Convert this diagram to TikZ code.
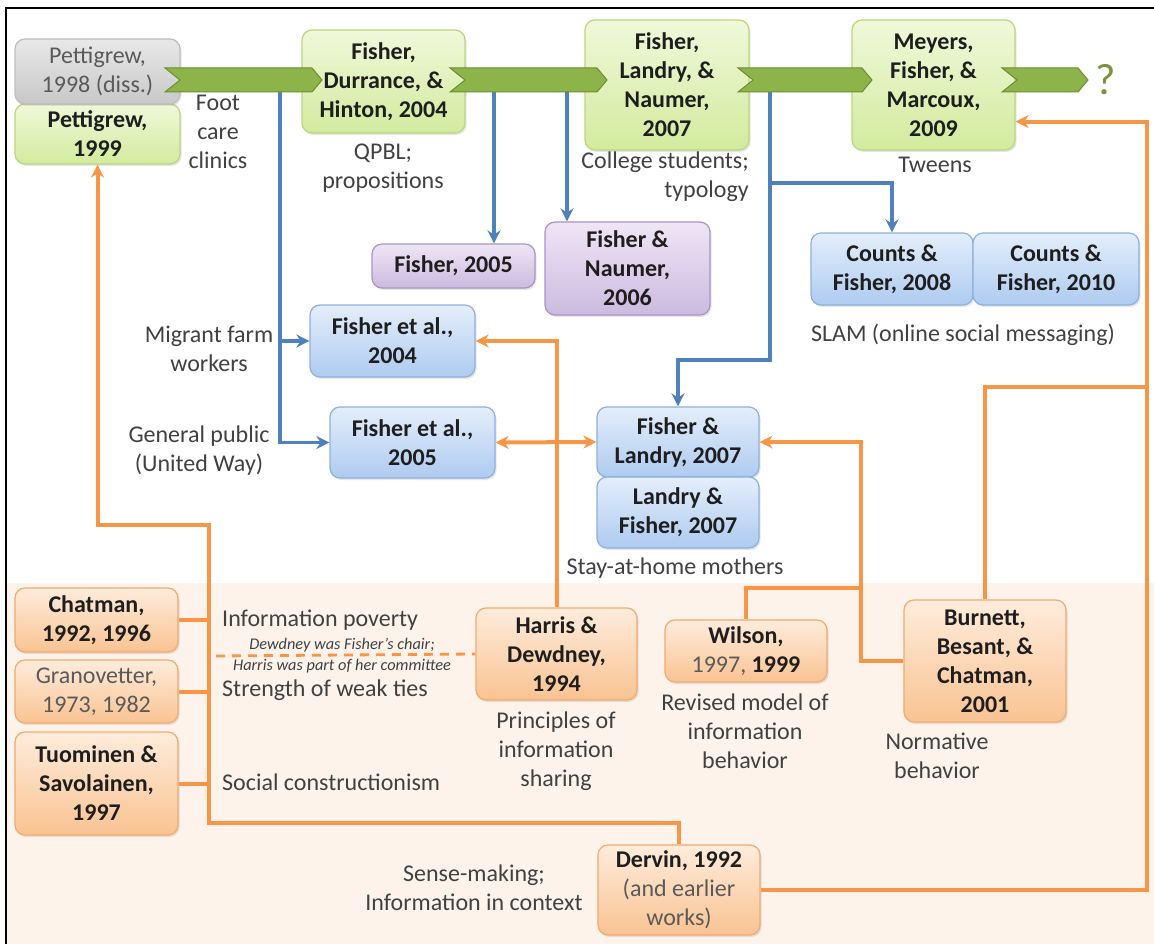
\documentclass[tikz,border=0pt]{standalone}
\usepackage{fontspec}
\setmainfont{Carlito}
\usepackage{tikz}
\usetikzlibrary{arrows.meta}
\usetikzlibrary{shadows}

\definecolor{peach}{RGB}{253,243,235}
\definecolor{ink}{RGB}{30,30,30}
\definecolor{soft}{RGB}{90,90,90}
\definecolor{note}{RGB}{65,65,65}
\definecolor{grnTop}{RGB}{240,248,218}
\definecolor{grnBot}{RGB}{210,235,158}
\definecolor{grnEdge}{RGB}{185,215,125}
\definecolor{gryTop}{RGB}{232,232,232}
\definecolor{gryBot}{RGB}{200,200,200}
\definecolor{gryEdge}{RGB}{190,190,190}
\definecolor{prpTop}{RGB}{238,230,245}
\definecolor{prpBot}{RGB}{205,186,224}
\definecolor{prpEdge}{RGB}{168,148,196}
\definecolor{bluTop}{RGB}{228,238,251}
\definecolor{bluBot}{RGB}{174,203,240}
\definecolor{bluEdge}{RGB}{143,176,220}
\definecolor{orgTop}{RGB}{254,236,220}
\definecolor{orgBot}{RGB}{249,195,146}
\definecolor{orgEdge}{RGB}{243,170,110}
\definecolor{bluLine}{RGB}{79,129,189}
\definecolor{orgLine}{RGB}{247,150,70}
\definecolor{chvFill}{RGB}{141,180,74}
\definecolor{chvEdge}{RGB}{106,142,47}
\definecolor{olive}{RGB}{119,147,60}

\begin{document}
\begin{tikzpicture}[x=1pt,y=1pt,yscale=-1,
  >={Stealth[length=13pt,width=13pt]},
  ref/.style={draw, rounded corners=10pt, line width=1.2pt, align=center, inner sep=2pt,
    font=\fontsize{24}{29}\selectfont\bfseries, text=ink,
    drop shadow={shadow xshift=1.5pt,shadow yshift=-2pt,opacity=0.2}},
  greenbox/.style={ref, draw=grnEdge, top color=grnTop, bottom color=grnBot},
  graybox/.style={ref, draw=gryEdge, top color=gryTop, bottom color=gryBot,
    font=\fontsize{24}{29}\selectfont, text=soft},
  purplebox/.style={ref, draw=prpEdge, top color=prpTop, bottom color=prpBot},
  bluebox/.style={ref, draw=bluEdge, top color=bluTop, bottom color=bluBot},
  orangebox/.style={ref, draw=orgEdge, top color=orgTop, bottom color=orgBot},
  oplain/.style={orangebox, font=\fontsize{24}{29}\selectfont, text=soft},
  lbl/.style={font=\fontsize{24}{29}\selectfont, text=note, align=center, inner sep=0pt},
  bline/.style={draw=bluLine, line width=3.2pt},
  oline/.style={draw=orgLine, line width=4pt},
  chev/.style={fill=chvFill, draw=chvEdge, line width=1pt}]
\useasboundingbox (0,0) rectangle (1154,944);

% background and frame
\fill[peach] (6,583) rectangle (1154,944);
\draw[line width=2pt] (6,944) -- (6,8) -- (1154,8);

% timeline studies
\node[greenbox, minimum width=165, minimum height=60] (p99) at (97.5,134) {Pettigrew,\\1999};
\node[graybox, minimum width=165, minimum height=65] (p98) at (97.5,71.5) {Pettigrew,\\1998 (diss.)};
\node[greenbox, minimum width=163, minimum height=103] (fdh04) at (383.5,81.5) {Fisher,\\Durrance, \&\\Hinton, 2004};
\node[greenbox, minimum width=164, minimum height=130] (fln07) at (667,85) {Fisher,\\Landry, \&\\Naumer,\\2007};
\node[greenbox, minimum width=163, minimum height=130] (mfm09) at (933.5,85) {Meyers,\\Fisher, \&\\Marcoux,\\2009};

% spin-off studies
\node[purplebox, minimum width=163, minimum height=44] (f05) at (453.5,266) {Fisher, 2005};
\node[purplebox, minimum width=165, minimum height=93] (fn06) at (627.5,268.5) {Fisher \&\\Naumer,\\2006};
\node[bluebox, minimum width=162, minimum height=72] (cf08) at (892,269) {Counts \&\\Fisher, 2008};
\node[bluebox, minimum width=166, minimum height=72] (cf10) at (1056,269) {Counts \&\\Fisher, 2010};
\node[bluebox, minimum width=165, minimum height=72] (fe04) at (392.5,341) {Fisher et al.,\\2004};
\node[bluebox, minimum width=165, minimum height=71] (fe05) at (412.5,442.5) {Fisher et al.,\\2005};
\node[bluebox, minimum width=162, minimum height=70] (fl07) at (678,442) {Fisher \&\\Landry, 2007};
\node[bluebox, minimum width=162, minimum height=71] (lf07) at (678,512.5) {Landry \&\\Fisher, 2007};

% theories
\node[orangebox, minimum width=163, minimum height=64] (chat) at (96.5,620) {Chatman,\\1992, 1996};
\node[oplain, minimum width=163, minimum height=63] (gran) at (96.5,691.5) {Granovetter,\\1973, 1982};
\node[orangebox, minimum width=163, minimum height=103] (tuom) at (96.5,783.5) {Tuominen \&\\Savolainen,\\1997};
\node[orangebox, minimum width=161, minimum height=92] (harris) at (556.5,654) {Harris \&\\Dewdney,\\1994};
\node[orangebox, minimum width=162, minimum height=62] (wilson) at (746,651) {Wilson,\\{\mdseries\color{soft}1997,} 1999};
\node[orangebox, minimum width=162, minimum height=122] (burnett) at (985,661) {Burnett,\\Besant, \&\\Chatman,\\2001};
\node[orangebox, minimum width=162, minimum height=90] (dervin) at (679,890) {Dervin, 1992\\{\mdseries\color{soft}(and earlier}\\{\mdseries\color{soft}works)}};

% labels
\node[lbl] (lfoot) at (218,132) {Foot\\care\\clinics};
\node[lbl] (lqpbl) at (383,168) {QPBL;\\propositions};
\node[lbl, align=right, anchor=east] (lcoll) at (749,177) {College students;\\typology};
\node[lbl] (ltween) at (935,165) {Tweens};
\node[lbl] (lslam) at (963,335) {SLAM (online social messaging)};
\node[lbl] (lmigr) at (209,349) {Migrant farm\\workers};
\node[lbl] (lgen) at (199,451) {General public\\(United Way)};
\node[lbl] (lstay) at (675,568) {Stay-at-home mothers};
\node[lbl, anchor=west] (lpov) at (222,620) {Information poverty};
\node[lbl, anchor=west] (lweak) at (222,690) {Strength of weak ties};
\node[lbl, anchor=west] (lsoc) at (222,782) {Social constructionism};
\node[lbl] (lprin) at (556,751) {Principles of\\information\\sharing};
\node[lbl] (lrev) at (745,731) {Revised model of\\information\\behavior};
\node[lbl] (lnorm) at (937,756) {Normative\\behavior};
\node[lbl] (lsense) at (474,888) {Sense-making;\\Information in context};

% orange connectors
\coordinate (lbusb) at (209,823);
\coordinate (lbust) at (209,525);
\coordinate (wj) at (861,588);
\coordinate (rb) at (1147,387);
\coordinate (dstart) at (216,656);
\draw[oline,->] (dervin.north) |- (lbusb) -- (lbust) -| (p99.south);
\draw[oline] (chat.east) -- (chat.east -| lbusb);
\draw[oline] (gran.east) -- (gran.east -| lbusb);
\draw[oline] (tuom.east) -- (tuom.east -| lbusb);
\draw[oline,->] (harris.north) |- (fe04.east);
\draw[oline,<->] (fe05.east) -- (fl07.west);
\draw[oline,->] (burnett.west) -- (burnett.west -| wj) |- (fl07.east);
\draw[oline] (wilson.north) |- (wj);
\draw[oline,->] (dervin.east) -| (rb) |- (mfm09.-24);
\draw[oline] (burnett.north) |- (rb);
\draw[oline, line width=2.8pt, dash pattern=on 9pt off 7pt] (dstart) -- (harris.west);
\node[font=\fontsize{16.3}{21}\selectfont\itshape, text=note, align=center, inner sep=0pt] (lnote) at (342,656) {Dewdney was Fisher's chair;\\Harris was part of her committee};

% blue connectors
\coordinate (ch1) at (280,92);
\coordinate (ch2a) at (494,92);
\coordinate (ch2b) at (567,92);
\coordinate (ch3) at (770,92);
\coordinate (bj) at (770,360);
\coordinate (bk) at (770,183);
\draw[bline,->] (ch1) |- (fe05.west);
\draw[bline,->] (ch1 |- fe04.west) -- (fe04.west);
\draw[bline,->] (ch2a) -- (ch2a |- f05.north);
\draw[bline,->] (ch2b) -- (ch2b |- fn06.north);
\draw[bline,->] (ch3) -- (bj) -| (fl07.north);
\draw[bline,->] (bk) -| (cf08.north);

% timeline chevrons
\foreach \a/\b in {165/322,450/607,738/872,1002/1088}
  \draw[chev] (\a,68) -- (\b-10,68) -- (\b,80) -- (\b-10,92) -- (\a,92) -- (\a+15,80) -- cycle;
\node[font=\fontsize{44}{50}\selectfont, text=olive] (qmark) at (1106,80) {?};

\end{tikzpicture}
\end{document}
